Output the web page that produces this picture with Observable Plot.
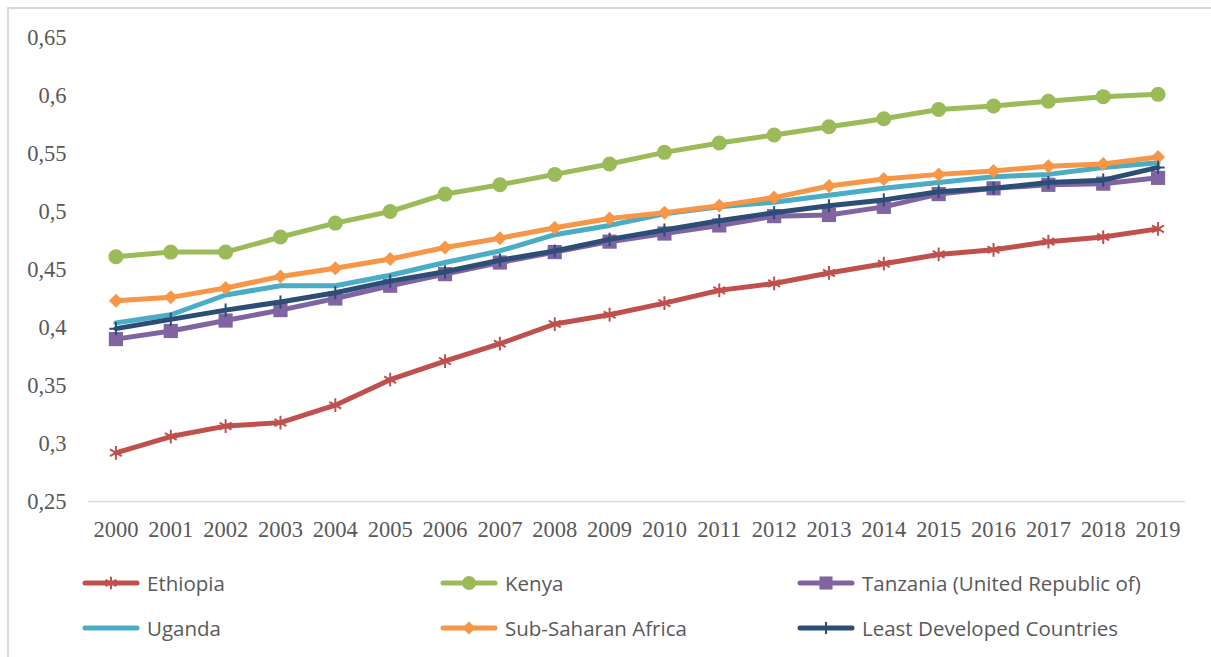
<!DOCTYPE html>
<html>
<head>
<meta charset="utf-8">
<script src="https://cdn.jsdelivr.net/npm/d3@7"></script>
<script src="https://cdn.jsdelivr.net/npm/@observablehq/plot@0.6"></script>
<style>
  html, body { margin: 0; padding: 0; background: #fff; }
  #wrap { position: relative; width: 1211px; height: 657px; overflow: hidden; background: #fff; }
  #frame { position: absolute; left: 7px; top: 7px; width: 1300px; height: 700px;
           border-left: 2px solid #d9d9d9; border-top: 2px solid #d9d9d9; box-sizing: border-box; }
  #chart { position: absolute; left: 0; top: 0; }
  #chart svg, #chart svg text { font-family: "Liberation Serif", "Times New Roman", serif !important; }
  .leg { position: absolute; height: 26px; display: flex; align-items: center;
         font-family: "Open Sans", sans-serif; font-size: 20.5px; color: #595959; white-space: nowrap; }
  .leg svg { display: block; margin-right: 7px; }
</style>
</head>
<body>
<div id="wrap">
  <div id="frame"></div>
  <div id="chart"></div>
  <div id="legend"></div>
</div>
<script>
const years = [2000,2001,2002,2003,2004,2005,2006,2007,2008,2009,2010,2011,2012,2013,2014,2015,2016,2017,2018,2019];
const ethiopia = [0.292,0.306,0.315,0.318,0.333,0.355,0.371,0.386,0.403,0.411,0.421,0.432,0.438,0.447,0.455,0.463,0.467,0.474,0.478,0.485];
const kenya    = [0.461,0.465,0.465,0.478,0.490,0.500,0.515,0.523,0.532,0.541,0.551,0.559,0.566,0.573,0.580,0.588,0.591,0.595,0.599,0.601];
const tanzania = [0.390,0.397,0.406,0.415,0.425,0.436,0.446,0.456,0.465,0.474,0.481,0.488,0.496,0.497,0.504,0.515,0.520,0.523,0.524,0.529];
const uganda   = [0.404,0.411,0.428,0.436,0.436,0.445,0.456,0.466,0.480,0.488,0.498,0.504,0.508,0.514,0.520,0.525,0.530,0.532,0.538,0.542];
const ssa      = [0.423,0.426,0.434,0.444,0.451,0.459,0.469,0.477,0.486,0.494,0.499,0.505,0.512,0.522,0.528,0.532,0.535,0.539,0.541,0.547];
const ldc      = [0.399,0.407,0.415,0.422,0.430,0.440,0.448,0.458,0.466,0.476,0.484,0.492,0.499,0.505,0.510,0.517,0.520,0.525,0.527,0.538];
const yTicks = [0.25,0.3,0.35,0.4,0.45,0.5,0.55,0.6,0.65];

const seriesNames = ["Ethiopia","Kenya","Tanzania (United Republic of)","Uganda","Sub-Saharan Africa","Least Developed Countries"];
const seriesValues = [ethiopia, kenya, tanzania, uganda, ssa, ldc];
const seriesColors = ["#C0504D","#9BBB59","#8064A2","#4BACC6","#F79646","#2C4D75"];
// marker styles per series
const markers = [
  {symbol: "asterisk", r: 6.5, fill: "none", stroke: true, sw: 2},
  {symbol: "circle", r: 7.5, fill: true, stroke: false, sw: 0},
  {symbol: "square", r: 8, fill: true, stroke: false, sw: 0},
  null,
  {symbol: "diamond2", r: 6.3, fill: true, stroke: false, sw: 0},
  {symbol: "plus", r: 4.3, fill: "none", stroke: true, sw: 2}
];

const marks = [Plot.ruleY([0.25], {stroke: "#d9d9d9", strokeWidth: 1.5})];
seriesNames.forEach((name, i) => {
  const data = years.map((yr, j) => ({year: yr, value: seriesValues[i][j], series: name}));
  marks.push(Plot.line(data, {x: "year", y: "value", stroke: seriesColors[i], strokeWidth: 5, strokeLinejoin: "round", strokeLinecap: "round"}));
  const m = markers[i];
  if (m) {
    marks.push(Plot.dot(data, {
      x: "year", y: "value", symbol: m.symbol, r: m.r,
      fill: m.fill === true ? seriesColors[i] : "none",
      stroke: m.stroke ? seriesColors[i] : "none",
      strokeWidth: m.sw
    }));
  }
});

const chart = Plot.plot({
  width: 1211, height: 560,
  marginLeft: 88, marginRight: 26, marginTop: 37, marginBottom: 59,
  style: {fontFamily: "'Liberation Serif', serif", fontSize: "22.5px", color: "#595959", background: "transparent", overflow: "visible"},
  x: {type: "point", domain: years, padding: 0.5, round: false, tickSize: 0, tickPadding: 20, label: null, tickFormat: d => String(d)},
  y: {domain: [0.25, 0.65], ticks: yTicks, tickSize: 0, tickPadding: 22, label: null, tickFormat: d => String(d).replace(".", ",")},
  marks
});
document.getElementById("chart").appendChild(chart);

// Legend
const legendPos = [
  {left: 82, top: 570}, {left: 440, top: 570}, {left: 797, top: 570},
  {left: 82, top: 615}, {left: 440, top: 615}, {left: 797, top: 615}
];
const symMap = {asterisk: d3.symbolAsterisk, circle: d3.symbolCircle, square: d3.symbolSquare, diamond2: d3.symbolDiamond2, plus: d3.symbolPlus};
const legend = d3.select("#legend");
seriesNames.forEach((name, i) => {
  const item = legend.append("div").attr("class", "leg")
    .style("left", legendPos[i].left + "px").style("top", legendPos[i].top + "px");
  const svg = item.append("svg").attr("width", 58).attr("height", 26);
  svg.append("line").attr("x1", 3).attr("x2", 55).attr("y1", 13).attr("y2", 13)
    .attr("stroke", seriesColors[i]).attr("stroke-width", 5).attr("stroke-linecap", "round");
  const m = markers[i];
  if (m) {
    const size = Math.PI * m.r * m.r * 0.85;
    svg.append("path").attr("transform", "translate(29,13)")
      .attr("d", d3.symbol(symMap[m.symbol], size)())
      .attr("fill", m.fill === true ? seriesColors[i] : "none")
      .attr("stroke", m.stroke ? seriesColors[i] : "none")
      .attr("stroke-width", m.sw);
  }
  item.append("span").text(name);
});
</script>
</body>
</html>
